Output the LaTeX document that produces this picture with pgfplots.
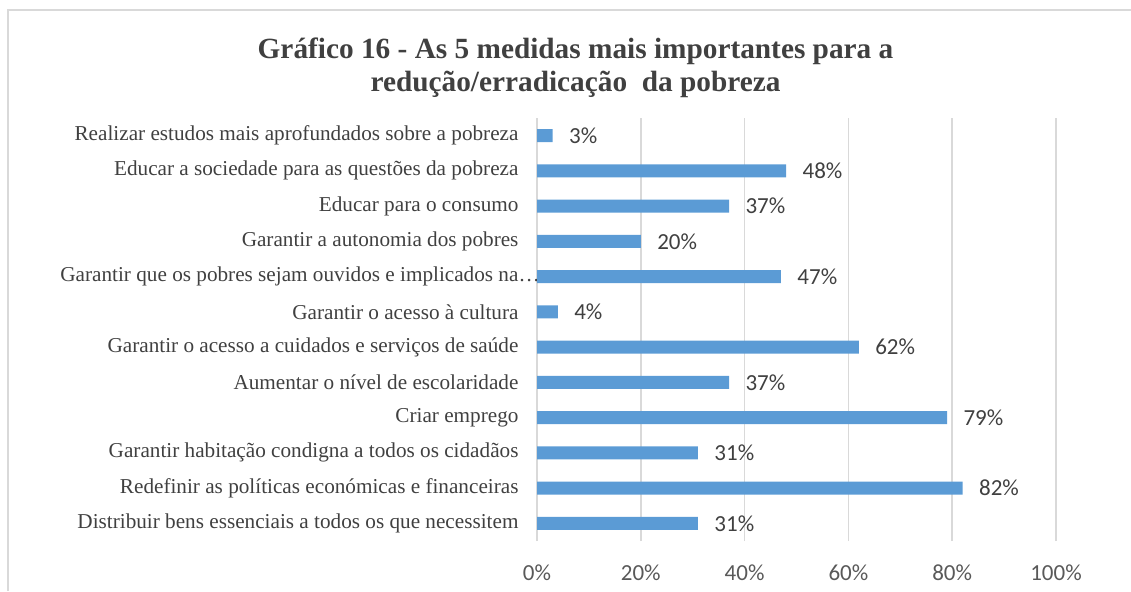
\documentclass[border=0pt]{standalone}
\usepackage{pgfplots}
\pgfplotsset{compat=1.18}
\usepackage{fontspec}
\setmainfont{Liberation Serif}
\newfontfamily\calibri{Carlito}
\definecolor{barblue}{HTML}{5B9BD5}
\definecolor{gridgray}{HTML}{D9D9D9}
\definecolor{txtdark}{HTML}{404040}
\definecolor{txtmid}{HTML}{595959}
\begin{document}
\begin{tikzpicture}[x=1pt,y=1pt]
\useasboundingbox (0,0) rectangle (1131,591);
\draw[gridgray, line width=2pt] (8,0) -- (8,581) -- (1131,581);
\node[anchor=base, font=\bfseries\fontsize{29.3}{34}\selectfont, text=txtdark] at (575.5,532) {Gráfico 16 - As 5 medidas mais importantes para a};
\node[anchor=base, font=\bfseries\fontsize{29.3}{34}\selectfont, text=txtdark] at (575.5,499) {redução/erradicação\ \ da pobreza};
\begin{axis}[
  at={(537pt,50pt)}, anchor=south west,
  scale only axis, width=519pt, height=423pt,
  xbar, bar width=0.37, bar shift=0pt,
  xmin=0, xmax=100, ymin=-0.5, ymax=11.5,
  xtick={0,20,...,100},
  xticklabel={\pgfmathprintnumber{\tick}\%},
  xticklabel style={font=\calibri\fontsize{23}{26}\selectfont, text=txtmid, yshift=-20pt},
  /pgf/number format/assume math mode=true,
  ytick={0,...,11},
  yticklabels={
    Distribuir bens essenciais a todos os que necessitem,
    Redefinir as políticas económicas e financeiras,
    Garantir habitação condigna a todos os cidadãos,
    Criar emprego,
    Aumentar o nível de escolaridade,
    Garantir o acesso a cuidados e serviços de saúde,
    Garantir o acesso à cultura,
    {Garantir que os pobres sejam ouvidos e implicados na\rlap{…}},
    Garantir a autonomia dos pobres,
    Educar para o consumo,
    Educar a sociedade para as questões da pobreza,
    Realizar estudos mais aprofundados sobre a pobreza},
  yticklabel style={font=\fontsize{21.2}{24}\selectfont, text=txtdark, xshift=-15pt},
  major tick length=0pt,
  xmajorgrids, grid style={gridgray, line width=1.5pt},
  axis line style={draw=none},
  nodes near coords={\pgfmathprintnumber{\pgfplotspointmeta}\%},
  point meta=x,
  nodes near coords style={font=\calibri\fontsize{23}{26}\selectfont, text=txtdark, anchor=west, xshift=13pt},
  clip=false,
]
\addplot[fill=barblue, draw=none] coordinates {
  (31,0) (82,1) (31,2) (79,3) (37,4) (62,5) (4,6) (47,7) (20,8) (37,9) (48,10) (3,11)
};
\end{axis}
\end{tikzpicture}
\end{document}
